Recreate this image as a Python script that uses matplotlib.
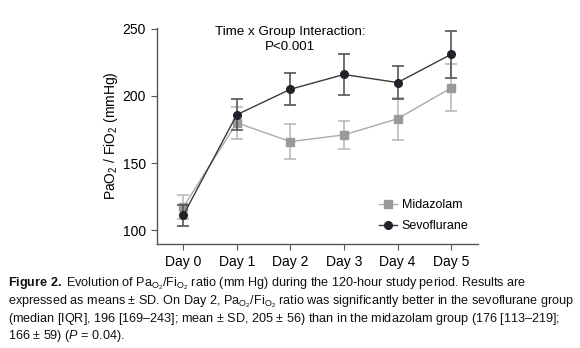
import matplotlib
matplotlib.use("Agg")
import matplotlib.pyplot as plt
from matplotlib.lines import Line2D
import numpy as np

plt.rcParams['font.family'] = ['Liberation Sans', 'DejaVu Sans']
plt.rcParams['mathtext.fontset'] = 'custom'
plt.rcParams['mathtext.rm'] = 'Liberation Sans'
plt.rcParams['mathtext.it'] = 'Liberation Sans:italic'
plt.rcParams['mathtext.bf'] = 'Liberation Sans:bold'

days = ["Day 0", "Day 1", "Day 2", "Day 3", "Day 4", "Day 5"]
mid_mean = [117, 180, 166, 171, 183, 206]
mid_sd = [9, 12, 13, 10.5, 15.5, 17.5]
sevo_mean = [111, 186, 205, 216, 210, 231]
sevo_sd = [8, 11.5, 12, 15, 12, 17.5]
yticks = [100, 150, 200, 250]

mid_line, mid_mark, mid_err = '#aaaaaa', '#9a9a9a', '#bbbbbb'
sev_line, sev_mark, sev_err = '#3a3a3a', '#22222a', '#555555'

fig = plt.figure(figsize=(5.8, 3.48), dpi=100)
ax = fig.add_axes([0.271, 0.300, 0.553, 0.619])
x = np.arange(len(days))

ax.errorbar(x, mid_mean, yerr=mid_sd, color=mid_line, ecolor=mid_err,
            marker='s', markersize=5.5, markerfacecolor=mid_mark,
            markeredgecolor=mid_mark, lw=1, elinewidth=1.2, capsize=4,
            capthick=1.2, zorder=2)
ax.errorbar(x, sevo_mean, yerr=sevo_sd, color=sev_line, ecolor=sev_err,
            marker='o', markersize=5.5, markerfacecolor=sev_mark,
            markeredgecolor=sev_mark, lw=1, elinewidth=1.2, capsize=4,
            capthick=1.2, zorder=3)

ax.set_xlim(-0.485, 5.5)
ax.set_ylim(90, 250.5)
ax.set_xticks(x)
ax.set_xticklabels(days, fontsize=10)
ax.set_yticks(yticks)
ax.set_yticklabels([str(v) for v in yticks], fontsize=10)
for s in ['top', 'right']:
    ax.spines[s].set_visible(False)
for s in ['left', 'bottom']:
    ax.spines[s].set_color('#555555')
    ax.spines[s].set_linewidth(1)
ax.tick_params(direction='out', length=4, color='#555555', pad=4)
ax.set_ylabel(r"PaO$_2$ / FiO$_2$ (mmHg)", fontsize=10, labelpad=2)

ax.text(2, 252.5, "Time x Group Interaction:\nP<0.001", ha='center', va='top',
        fontsize=9.6, linespacing=1.35, clip_on=False)

handles = [
    Line2D([], [], color=mid_line, marker='s', markersize=5.5,
           markerfacecolor=mid_mark, markeredgecolor=mid_mark, lw=1),
    Line2D([], [], color=sev_line, marker='o', markersize=5.5,
           markerfacecolor=sev_mark, markeredgecolor=sev_mark, lw=1),
]
ax.legend(handles, ['Midazolam', 'Sevoflurane'], loc='lower right',
          bbox_to_anchor=(1.005, 0.0), frameon=False, fontsize=9,
          handlelength=1.4, handletextpad=0.4, labelspacing=0.75)

lines = [
    r"$\mathbf{Figure\ 2.}$ Evolution of Pa$_{\mathrm{O_2}}$/Fi$_{\mathrm{O_2}}$ ratio (mm Hg) during the 120-hour study period. Results are",
    r"expressed as means $\pm$ SD. On Day 2, Pa$_{\mathrm{O_2}}$/Fi$_{\mathrm{O_2}}$ ratio was significantly better in the sevoflurane group",
    r"(median [IQR], 196 [169–243]; mean $\pm$ SD, 205 $\pm$ 56) than in the midazolam group (176 [113–219];",
    r"166 $\pm$ 59) ($P$ = 0.04).",
]
ys = [284, 302, 319, 336]
for t, yy in zip(lines, ys):
    fig.text(8 / 580, 1 - yy / 348, t, ha='left', va='center', fontsize=9.1,
             color='#111111')

fig.savefig("out.png", dpi=100)
